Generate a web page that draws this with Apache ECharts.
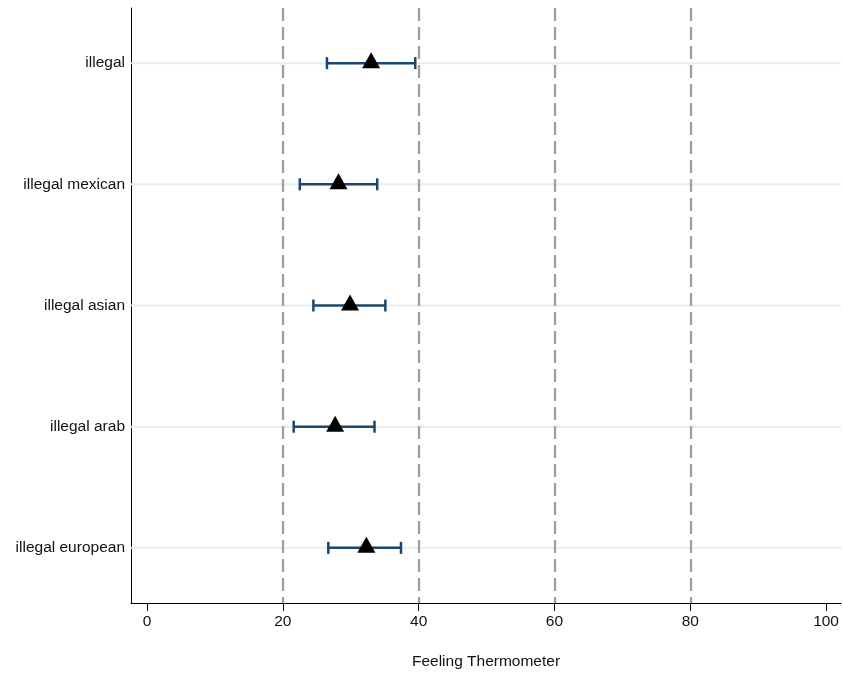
<!DOCTYPE html>
<html>
<head>
<meta charset="utf-8">
<script src="https://cdn.jsdelivr.net/npm/echarts@6/dist/echarts.min.js"></script>
<style>html,body{margin:0;padding:0;background:#fff}#c{width:843px;height:676px}</style>
</head>
<body>
<div id="c"></div>
<script>
const categories = ['illegal', 'illegal mexican', 'illegal asian', 'illegal arab', 'illegal european'];
const estimates = [33.0, 28.2, 29.9, 27.7, 32.3];
const lowerCI = [26.5, 22.5, 24.5, 21.6, 26.7];
const upperCI = [39.5, 33.9, 35.1, 33.5, 37.4];
const xTicks = [0, 20, 40, 60, 80, 100];
const refLines = [20, 40, 60, 80];
const xTitle = 'Feeling Thermometer';

const FONT = 'Liberation Sans';
const chart = echarts.init(document.getElementById('c'), null, {renderer: 'canvas'});
const rowPos = categories.map((c, i) => i + 1);

const option = {
  animation: false,
  backgroundColor: '#fff',
  grid: {left: 131, right: 2, top: 8, bottom: 73},
  xAxis: {
    type: 'value', min: -2.36, max: 102.2,
    name: xTitle, nameLocation: 'middle', nameGap: 51,
    nameTextStyle: {fontFamily: FONT, fontSize: 15.5, color: '#111'},
    axisLine: {show: true, lineStyle: {color: '#000', width: 1}},
    axisTick: {show: true, length: 8, lineStyle: {color: '#000'}, customValues: xTicks},
    axisLabel: {show: true, customValues: xTicks, margin: 11, fontFamily: FONT, fontSize: 15.5, color: '#111'},
    splitLine: {show: false}
  },
  yAxis: {
    type: 'value', inverse: true, min: 0.545, max: 5.455,
    axisLine: {show: true, onZero: false, lineStyle: {color: '#000', width: 1}},
    axisTick: {show: false, customValues: rowPos},
    axisLabel: {show: true, customValues: rowPos, margin: 6, fontFamily: FONT, fontSize: 15.5, color: '#111',
      formatter: v => categories[Math.round(v) - 1] || ''},
    splitLine: {show: false}
  },
  series: [
    {
      type: 'custom', z: 1, silent: true,
      data: rowPos.map(p => [p]),
      encode: {y: 0},
      renderItem: function (params, api) {
        const y = api.coord([0, api.value(0)])[1];
        const cs = params.coordSys;
        return {type: 'line', shape: {x1: cs.x, y1: y, x2: cs.x + cs.width, y2: y},
          style: {stroke: '#e5efef', lineWidth: 2}};
      }
    },
    {
      type: 'scatter', z: 2, silent: true, data: [],
      markLine: {
        silent: true, symbol: ['none', 'none'], label: {show: false},
        lineStyle: {color: '#a0a0a0', width: 2.3, type: [13, 6], opacity: 1},
        data: refLines.map(v => ({xAxis: v}))
      }
    },
    {
      type: 'custom', z: 3, silent: true,
      data: rowPos.map((p, i) => [lowerCI[i], upperCI[i], p]),
      encode: {x: [0, 1], y: 2},
      renderItem: function (params, api) {
        const a = api.coord([api.value(0), api.value(2)]);
        const b = api.coord([api.value(1), api.value(2)]);
        const h = 6;
        const st = {stroke: '#1a476f', lineWidth: 2.5};
        return {type: 'group', children: [
          {type: 'line', shape: {x1: a[0], y1: a[1], x2: b[0], y2: b[1]}, style: st},
          {type: 'line', shape: {x1: a[0], y1: a[1] - h, x2: a[0], y2: a[1] + h}, style: st},
          {type: 'line', shape: {x1: b[0], y1: b[1] - h, x2: b[0], y2: b[1] + h}, style: st}
        ]};
      }
    },
    {
      type: 'scatter', z: 4, silent: true,
      symbol: 'triangle', symbolSize: [18, 16], symbolOffset: [0, -3],
      itemStyle: {color: '#000', opacity: 1},
      data: rowPos.map((p, i) => [estimates[i], p])
    }
  ]
};
chart.setOption(option);
</script>
</body>
</html>
